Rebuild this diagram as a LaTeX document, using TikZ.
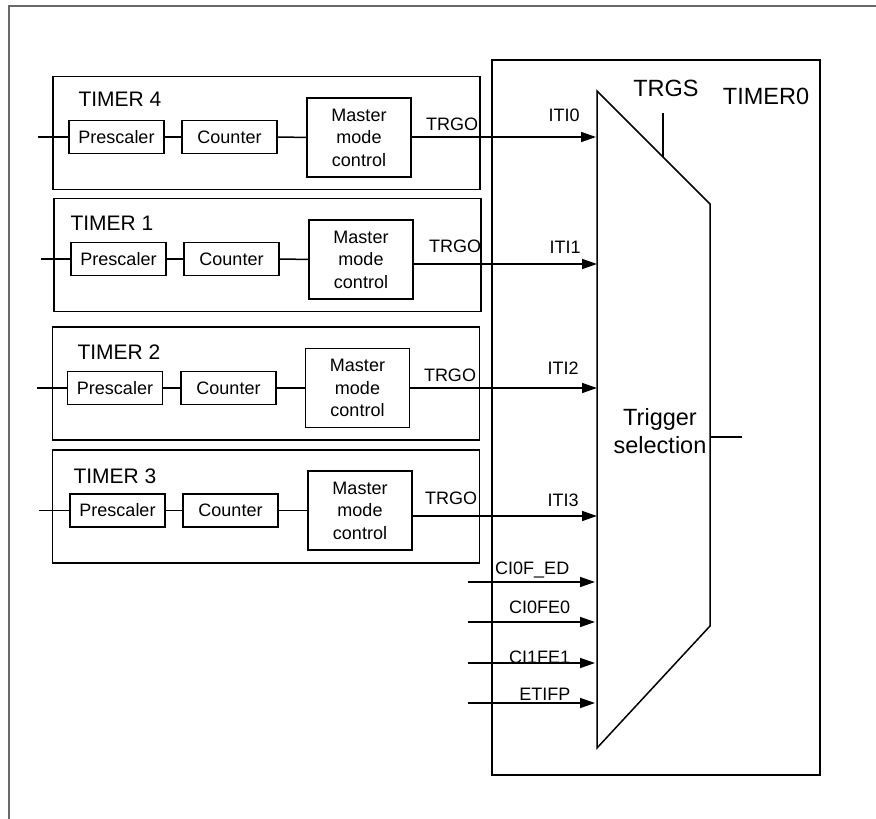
\documentclass[tikz,border=0pt]{standalone}
\usepackage{fontspec}
\setmainfont{Liberation Sans}
\usetikzlibrary{arrows.meta}
\definecolor{framegray}{RGB}{105,105,105}
\begin{document}
\begin{tikzpicture}[x=1pt, y=-1pt, line width=1.5pt,
    sm/.style={draw, inner sep=0pt, minimum width=95pt, minimum height=33pt, font=\fontsize{18}{22}\selectfont},
    mmc/.style={draw, inner sep=0pt, align=center, minimum width=104pt, minimum height=79pt, font=\fontsize{18}{22.5}\selectfont},
    timerbox/.style={draw, minimum width=427pt, minimum height=113pt},
    lbl/.style={inner sep=0pt, font=\fontsize{18}{22}\selectfont},
    tname/.style={inner sep=0pt, font=\fontsize{21}{24}\selectfont},
    big/.style={inner sep=0pt, font=\fontsize{23.5}{28}\selectfont},
    sig/.style={-{Triangle[length=15pt, width=10pt]}}]
  \useasboundingbox (0,0) rectangle (876,819);
  \draw[framegray, line width=1.8pt] (9,819) -- (9,6) -- (876,6);

  \node[timerbox] (B4) at (266.5,133) {};
  \node[timerbox] (B1) at (267.5,255) {};
  \node[timerbox] (B2) at (266,383.5) {};
  \node[timerbox] (B3) at (266,506.5) {};

  \node[tname] (N4) at (120,99) {TIMER 4};
  \node[tname] (N1) at (112,223) {TIMER 1};
  \node[tname] (N2) at (119,352) {TIMER 2};
  \node[tname] (N3) at (115,476) {TIMER 3};

  \node[sm] (P4) at (116.5,137) {Prescaler};
  \node[sm] (C4) at (229.5,137) {Counter};
  \node[mmc] (M4) at (359,137.5) {Master\\mode\\control};
  \node[sm] (P1) at (118.5,259) {Prescaler};
  \node[sm] (C1) at (231.5,259) {Counter};
  \node[mmc] (M1) at (361,259.5) {Master\\mode\\control};
  \node[sm] (P2) at (115,388) {Prescaler};
  \node[sm] (C2) at (228.5,388) {Counter};
  \node[mmc] (M2) at (357.5,388) {Master\\mode\\control};
  \node[sm] (P3) at (117.5,510.5) {Prescaler};
  \node[sm] (C3) at (230.5,510.5) {Counter};
  \node[mmc] (M3) at (360,510.5) {Master\\mode\\control};

  \coordinate (in4) at (38,137);
  \coordinate (in1) at (41,259);
  \coordinate (in2) at (37,388);
  \coordinate (in3) at (39,510.5);
  \draw (in4) -- (P4);
  \draw (P4) -- (C4);
  \draw (C4) -- (M4);
  \draw (in1) -- (P1);
  \draw (P1) -- (C1);
  \draw (C1) -- (M1);
  \draw (in2) -- (P2);
  \draw (P2) -- (C2);
  \draw (C2) -- (M2);
  \draw (in3) -- (P3);
  \draw (P3) -- (C3);
  \draw (C3) -- (M3);

  \node[lbl] (G4) at (452,124) {TRGO};
  \node[lbl] (G1) at (455,246) {TRGO};
  \node[lbl] (G2) at (450,375) {TRGO};
  \node[lbl] (G3) at (451,498) {TRGO};

  \node[draw, minimum width=328pt, minimum height=715pt] (T0) at (656,417.5) {};
  \node[big] (T0name) at (766,96) {TIMER0};
  \draw (597,91) -- (710,204) -- (710,626) -- (597,748) -- cycle;
  \node[big, align=center] (sel) at (660,431) {Trigger\\selection};
  \node[big] (trgs) at (666,88) {TRGS};
  \coordinate (trgsT) at (663,113);
  \coordinate (trgsB) at (663,157);
  \draw (trgsT) -- (trgsB);
  \coordinate (outL) at (710,437);
  \coordinate (out) at (742,437);
  \draw (outL) -- (out);

  \coordinate (I0) at (596,137);
  \coordinate (I1) at (597,264);
  \coordinate (I2) at (597,388);
  \coordinate (I3) at (597,516);
  \draw[sig] (M4.east |- I0) -- (I0);
  \draw[sig] (M1.east |- I1) -- (I1);
  \draw[sig] (M2.east |- I2) -- (I2);
  \draw[sig] (M3.east |- I3) -- (I3);
  \node[lbl] (L0) at (564,115) {ITI0};
  \node[lbl] (L1) at (565,247) {ITI1};
  \node[lbl] (L2) at (563,368) {ITI2};
  \node[lbl] (L3) at (563,500) {ITI3};

  \coordinate (s1) at (468,582);
  \coordinate (e1) at (595,582);
  \coordinate (s2) at (468,622);
  \coordinate (e2) at (595,622);
  \coordinate (s3) at (468,663);
  \coordinate (e3) at (595,663);
  \coordinate (s4) at (468,703);
  \coordinate (e4) at (595,703);
  \draw[sig] (s1) -- (e1);
  \draw[sig] (s2) -- (e2);
  \draw[sig] (s3) -- (e3);
  \draw[sig] (s4) -- (e4);
  \node[lbl, anchor=base east] (K1) at (570,574) {CI0F\_ED};
  \node[lbl, anchor=base east] (K2) at (571,613) {CI0FE0};
  \node[lbl, anchor=base east] (K3) at (571,663) {CI1FE1};
  \node[lbl, anchor=base east] (K4) at (571,700) {ETIFP};
\end{tikzpicture}
\end{document}
